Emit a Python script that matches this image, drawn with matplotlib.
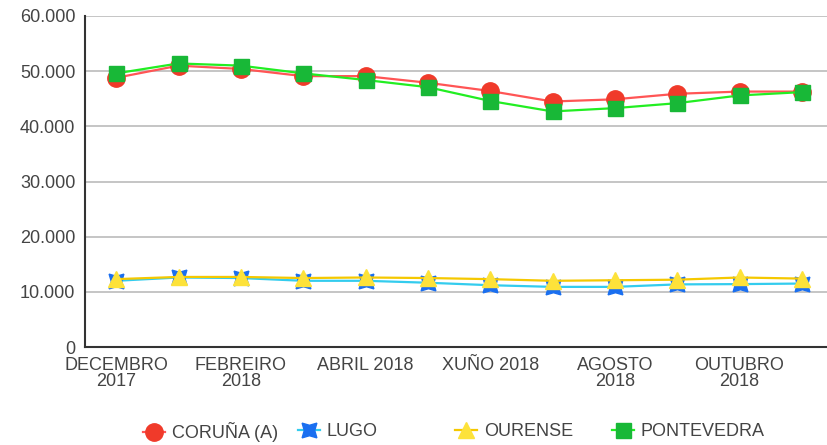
import matplotlib
matplotlib.use("Agg")
import matplotlib.pyplot as plt
from matplotlib.ticker import FuncFormatter
from matplotlib.lines import Line2D

plt.rcParams["font.family"] = ["Liberation Sans", "DejaVu Sans"]

# ---- data -------------------------------------------------------------------
months = ["DECEMBRO\n2017", "XANEIRO\n2018", "FEBREIRO\n2018", "MARZO\n2018",
          "ABRIL 2018", "MAIO 2018", "XUÑO 2018", "XULLO 2018",
          "AGOSTO\n2018", "SETEMBRO\n2018", "OUTUBRO\n2018", "NOVEMBRO\n2018"]
coruna = [48800, 51000, 50400, 49100, 49100, 47900, 46400, 44500, 44900, 45900, 46300, 46300]
lugo = [12000, 12600, 12500, 12000, 12000, 11650, 11200, 10900, 10900, 11350, 11400, 11500]
ourense = [12300, 12700, 12700, 12500, 12600, 12500, 12300, 12000, 12100, 12200, 12600, 12400]
pontevedra = [49600, 51400, 51000, 49600, 48400, 47100, 44600, 42700, 43300, 44200, 45600, 46200]

series_names = ["CORUÑA (A)", "LUGO", "OURENSE", "PONTEVEDRA"]
series_vals = [coruna, lugo, ourense, pontevedra]

# ---- styles -----------------------------------------------------------------
styles = [
    dict(color="#ff5555", marker="o", markersize=12.5, mfc="#f03a2a", mec="#f03a2a"),
    dict(color="#33ccee", marker=(4, 1, 45), markersize=15, mfc="#1a6ff0", mec="#1a6ff0"),
    dict(color="#f5c800", marker="^", markersize=11, mfc="#fde23a", mec="#fde23a"),
    dict(color="#22ee22", marker="s", markersize=10.8, mfc="#18b837", mec="#18b837"),
]
TXT = "#444444"

fig = plt.figure(figsize=(8.27, 4.45), dpi=100)
ax = fig.add_axes([85 / 827, 98 / 445, 748 / 827, 331 / 445])

x = list(range(len(months)))
for name, vals, st in zip(series_names, series_vals, styles):
    ax.plot(x, vals, lw=1.6, label=name, clip_on=False, **st)

ax.set_xlim(-0.5, len(months) - 0.5)
ax.set_ylim(0, 60000)
ax.set_yticks(range(0, 60001, 10000))
ax.yaxis.set_major_formatter(FuncFormatter(lambda v, p: f"{int(v):,}".replace(",", ".")))
ax.set_xticks(x[::2])
ax.set_xticklabels(months[::2], linespacing=0.95)
ax.tick_params(axis="both", length=0, labelsize=13, colors=TXT)
ax.tick_params(axis="x", pad=7)
ax.tick_params(axis="y", pad=7)

ax.grid(axis="y", color="#bbbbbb", lw=1.2)
ax.set_axisbelow(True)
for s in ("top", "right"):
    ax.spines[s].set_visible(False)
for s in ("left", "bottom"):
    ax.spines[s].set_color("#333333")
    ax.spines[s].set_linewidth(1.5)

# legend: fixed-width columns along the bottom
leg_x = [143, 298, 455, 612]
for name, st, lx in zip(series_names, styles, leg_x):
    h = Line2D([], [], lw=1.6, **st)
    fig.legend([h], [name], loc="center left", bbox_to_anchor=(lx / 827, 13 / 445),
               frameon=False, fontsize=13, handlelength=1.2, handletextpad=0.4,
               borderaxespad=0, borderpad=0, labelcolor=TXT)

fig.savefig("out.png", dpi=100, facecolor="white")
